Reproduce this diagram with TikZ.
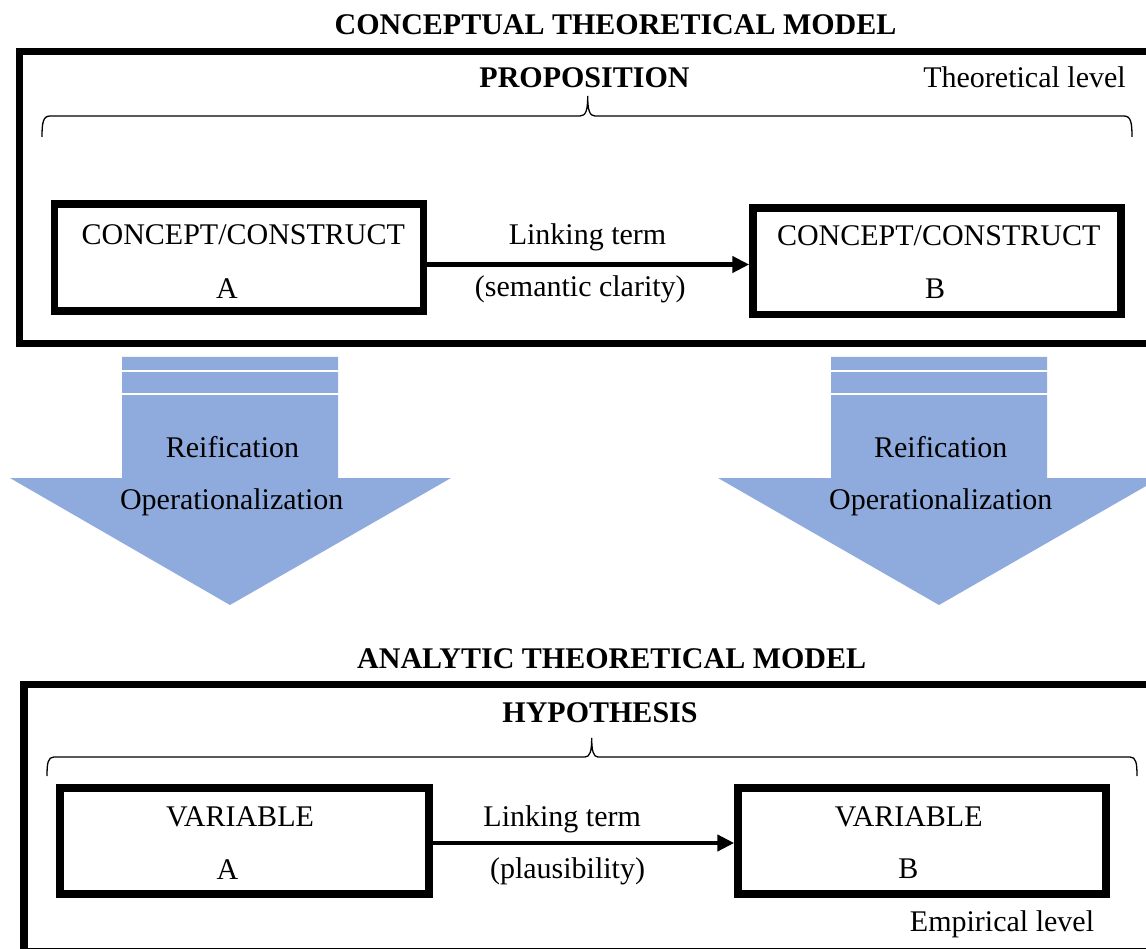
\documentclass[tikz,border=0pt]{standalone}
\usepackage{fontspec}
\setmainfont{Liberation Serif}
\usetikzlibrary{arrows.meta}
\definecolor{arrowblue}{RGB}{143,170,220}
\begin{document}
\begin{tikzpicture}[x=1pt,y=-1pt,
  txt/.style={inner sep=0pt, anchor=base, font=\fontsize{30}{36}\selectfont},
  btxt/.style={inner sep=0pt, anchor=base, font=\fontsize{30}{36}\selectfont\bfseries},
  frame/.style={draw=black, line width=7.5pt},
  boxnode/.style={draw=black, line width=7.5pt, inner sep=0pt, rectangle},
  link/.style={draw=black, line width=4.5pt, -{Triangle[length=17pt,width=16pt]}},
  bracestyle/.style={draw=black, line width=1.3pt},
  bigarrow/.style={fill=arrowblue, draw=none},
  gapline/.style={draw=white, line width=1.8pt}]
\useasboundingbox (0,0) rectangle (1146,949);
\clip (0,0) rectangle (1146,949);

% ---------- conceptual model ----------
\node[btxt] (t1) at (615.5,35) {CONCEPTUAL THEORETICAL MODEL};
\draw[frame] (19.5,51.5) rectangle (1180,343.5);
\node[btxt] (prop) at (584.5,88) {PROPOSITION};
\node[txt] (theo) at (1024.5,88) {Theoretical level};

\draw[bracestyle] (42,137) .. controls (42,123) and (43,116) .. (50,116)
  -- (580,116) .. controls (586,116) and (587.7,110) .. (587.7,96)
  .. controls (587.7,110) and (589.5,116) .. (595,116)
  -- (1124,116) .. controls (1131,116) and (1132,123) .. (1132,137);

\node[boxnode, minimum width=369pt, minimum height=107pt] (A) at (239,257.5) {};
\node[boxnode, minimum width=368pt, minimum height=106.5pt] (B) at (937,261.25) {};
\node[txt] (Ac) at (243.3,245) {CONCEPT/CONSTRUCT};
\node[txt] (Al) at (227,298.5) {A};
\node[txt] (Bc) at (938.7,246) {CONCEPT/CONSTRUCT};
\node[txt] (Bl) at (935,299) {B};
\coordinate (la) at ([yshift=-7pt]A.east);
\draw[link] (la) -- (la -| B.west);
\node[txt] (lt1) at (587.5,245) {Linking term};
\node[txt] (sc) at (580.3,297) {(semantic clarity)};

% ---------- blue arrows ----------
\fill[bigarrow] (122,357) -- (338,357) -- (338,478) -- (451,478) -- (230,605)
  -- (10,478) -- (122,478) -- cycle;
\draw[gapline] (121,371) -- (339,371);
\draw[gapline] (121,394) -- (339,394);
\node[txt] (r1) at (232.5,457.5) {Reification};
\node[txt] (o1) at (231.7,509) {Operationalization};

\fill[bigarrow] (831,357) -- (1047,357) -- (1047,478) -- (1160,478) -- (939,605)
  -- (718,478) -- (831,478) -- cycle;
\draw[gapline] (830,371) -- (1048,371);
\draw[gapline] (830,394) -- (1048,394);
\node[txt] (r2) at (940.8,457.5) {Reification};
\node[txt] (o2) at (940.8,509) {Operationalization};

% ---------- analytic model ----------
\node[btxt] (t2) at (611.7,668) {ANALYTIC THEORETICAL MODEL};
\draw[frame] (24,684.5) rectangle (1180,951.5);
\node[btxt] (hyp) at (600,722) {HYPOTHESIS};

\draw[bracestyle] (47,776) .. controls (47,763) and (48,757) .. (54,757)
  -- (585,757) .. controls (590,757) and (591.7,751) .. (591.7,738)
  .. controls (591.7,751) and (593.5,757) .. (598,757)
  -- (1130,757) .. controls (1136,757) and (1137,763) .. (1137,776);

\node[boxnode, minimum width=369pt, minimum height=106pt] (VA) at (244.5,841) {};
\node[boxnode, minimum width=368pt, minimum height=106pt] (VB) at (922,841) {};
\node[txt] (VAc) at (240,826.7) {VARIABLE};
\node[txt] (VAl) at (227.5,879) {A};
\node[txt] (VBc) at (908.7,826.7) {VARIABLE};
\node[txt] (VBl) at (908.3,878.5) {B};
\coordinate (lb) at ([yshift=-2pt]VA.east);
\draw[link] (lb) -- (lb -| VB.west);
\node[txt] (lt2) at (562.2,826.7) {Linking term};
\node[txt] (pl) at (567.5,878) {(plausibility)};
\node[txt] (emp) at (1002,931.7) {Empirical level};
\end{tikzpicture}
\end{document}
